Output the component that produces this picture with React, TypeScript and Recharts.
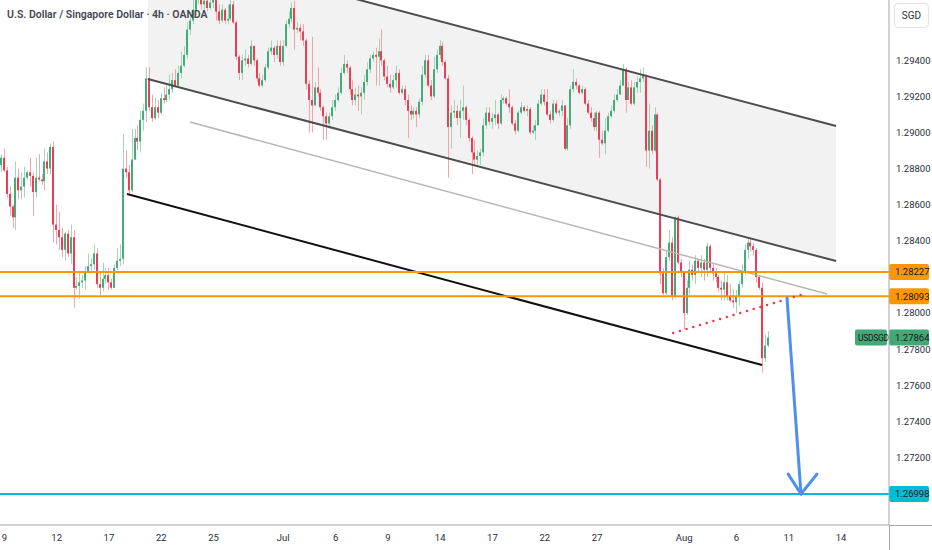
import React from 'react';
import { ComposedChart, Bar, Area, XAxis, YAxis, ReferenceLine } from 'recharts';

// USD/SGD 4h candles (open = previous close)
const firstOpen = 1.2882;
const closes = [
  1.2886, 1.2879, 1.2866, 1.2859, 1.2853, 1.2875, 1.2868, 1.2870, 1.2875, 1.2878,
  1.2876, 1.2867, 1.2875, 1.2874, 1.2873, 1.2884, 1.2880, 1.2892, 1.2849, 1.2846,
  1.2842, 1.2835, 1.2844, 1.2833, 1.2842, 1.2814, 1.2815, 1.2817, 1.2818, 1.2823,
  1.2826, 1.2827, 1.2833, 1.2816, 1.2814, 1.2819, 1.2821, 1.2817, 1.2814, 1.2825,
  1.2829, 1.2830, 1.2880, 1.2878, 1.2868, 1.2885, 1.2897, 1.2895, 1.2907, 1.2912,
  1.2930, 1.2914, 1.2908, 1.2914, 1.2911, 1.2919, 1.2918, 1.2921, 1.2924, 1.2929,
  1.2926, 1.2933, 1.2937, 1.2943, 1.2957, 1.2962, 1.2968, 1.2976, 1.2978, 1.2971,
  1.2973, 1.2969, 1.2972, 1.2975, 1.2967, 1.2962, 1.2968, 1.2962, 1.2963, 1.2971,
  1.2961, 1.2942, 1.2933, 1.2940, 1.2941, 1.2938, 1.2948, 1.2940, 1.2930, 1.2926,
  1.2929, 1.2936, 1.2945, 1.2947, 1.2943, 1.2948, 1.2939, 1.2948, 1.2960, 1.2963,
  1.2969, 1.2957, 1.2958, 1.2956, 1.2951, 1.2927, 1.2918, 1.2915, 1.2925, 1.2922,
  1.2914, 1.2909, 1.2905, 1.2909, 1.2914, 1.2918, 1.2922, 1.2933, 1.2938, 1.2936,
  1.2924, 1.2918, 1.2921, 1.2920, 1.2922, 1.2928, 1.2935, 1.2941, 1.2943, 1.2942,
  1.2945, 1.2940, 1.2931, 1.2927, 1.2925, 1.2929, 1.2933, 1.2922, 1.2924, 1.2918,
  1.2912, 1.2910, 1.2912, 1.2910, 1.2917, 1.2932, 1.2940, 1.2926, 1.2920, 1.2935,
  1.2943, 1.2948, 1.2939, 1.2930, 1.2903, 1.2911, 1.2912, 1.2908, 1.2912, 1.2914,
  1.2907, 1.2897, 1.2889, 1.2885, 1.2887, 1.2889, 1.2904, 1.2911, 1.2906, 1.2908,
  1.2910, 1.2905, 1.2918, 1.2919, 1.2916, 1.2914, 1.2905, 1.2901, 1.2911, 1.2914,
  1.2912, 1.2913, 1.2900, 1.2901, 1.2904, 1.2916, 1.2921, 1.2917, 1.2910, 1.2907,
  1.2916, 1.2911, 1.2912, 1.2915, 1.2891, 1.2904, 1.2924, 1.2928, 1.2926, 1.2922,
  1.2924, 1.2916, 1.2911, 1.2908, 1.2903, 1.2911, 1.2896, 1.2894, 1.2901, 1.2909,
  1.2912, 1.2918, 1.2921, 1.2926, 1.2935, 1.2918, 1.2925, 1.2916, 1.2925, 1.2928,
  1.2930, 1.2932, 1.2890, 1.2901, 1.2890, 1.2910, 1.2874, 1.2822, 1.2811, 1.2831,
  1.2839, 1.2809, 1.2853, 1.2828, 1.2823, 1.2800, 1.2814, 1.2824, 1.2821, 1.2829,
  1.2825, 1.2828, 1.2824, 1.2837, 1.2825, 1.2822, 1.2820, 1.2814, 1.2813, 1.2817,
  1.2809, 1.2807, 1.2806, 1.2809, 1.2816, 1.2823, 1.2835, 1.2839, 1.2837, 1.2835,
  1.2820, 1.2814, 1.2775, 1.2782, 1.27864,
];
const highs = [
  1.2888, 1.2891, 1.2881, 1.2870, 1.2860, 1.2884, 1.2880, 1.2878, 1.2881, 1.2879,
  1.2886, 1.2878, 1.2886, 1.2888, 1.2877, 1.2891, 1.2889, 1.2894, 1.2895, 1.2860,
  1.2856, 1.2847, 1.2845, 1.2846, 1.2849, 1.2846, 1.2820, 1.2822, 1.2821, 1.2826,
  1.2833, 1.2830, 1.2838, 1.2836, 1.2823, 1.2828, 1.2825, 1.2825, 1.2819, 1.2827,
  1.2836, 1.2838, 1.2899, 1.2890, 1.2882, 1.2902, 1.2902, 1.2904, 1.2912, 1.2916,
  1.2936, 1.2936, 1.2921, 1.2919, 1.2918, 1.2922, 1.2925, 1.2926, 1.2932, 1.2933,
  1.2935, 1.2937, 1.2945, 1.2948, 1.2961, 1.2967, 1.2976, 1.2982, 1.2985, 1.2982,
  1.2979, 1.2976, 1.2976, 1.2979, 1.2976, 1.2971, 1.2971, 1.2969, 1.2971, 1.2976,
  1.2973, 1.2962, 1.2943, 1.2943, 1.2946, 1.2943, 1.2951, 1.2946, 1.2941, 1.2933,
  1.2932, 1.2938, 1.2947, 1.2951, 1.2948, 1.2951, 1.2951, 1.2951, 1.2962, 1.2967,
  1.2972, 1.2973, 1.2961, 1.2960, 1.2960, 1.2952, 1.2929, 1.2953, 1.2928, 1.2936,
  1.2924, 1.2915, 1.2911, 1.2911, 1.2918, 1.2921, 1.2925, 1.2936, 1.2943, 1.2940,
  1.2937, 1.2929, 1.2925, 1.2926, 1.2925, 1.2932, 1.2939, 1.2943, 1.2945, 1.2947,
  1.2952, 1.2957, 1.2941, 1.2937, 1.2932, 1.2932, 1.2937, 1.2935, 1.2926, 1.2926,
  1.2921, 1.2915, 1.2914, 1.2914, 1.2919, 1.2937, 1.2943, 1.2943, 1.2929, 1.2942,
  1.2946, 1.2951, 1.2950, 1.2940, 1.2932, 1.2915, 1.2918, 1.2915, 1.2918, 1.2926,
  1.2915, 1.2908, 1.2898, 1.2896, 1.2890, 1.2891, 1.2908, 1.2914, 1.2914, 1.2911,
  1.2918, 1.2911, 1.2921, 1.2920, 1.2920, 1.2924, 1.2915, 1.2907, 1.2912, 1.2917,
  1.2915, 1.2915, 1.2914, 1.2904, 1.2907, 1.2918, 1.2924, 1.2924, 1.2924, 1.2912,
  1.2918, 1.2918, 1.2913, 1.2918, 1.2915, 1.2908, 1.2926, 1.2935, 1.2930, 1.2927,
  1.2926, 1.2925, 1.2918, 1.2914, 1.2911, 1.2912, 1.2912, 1.2901, 1.2908, 1.2911,
  1.2915, 1.2921, 1.2924, 1.2929, 1.2938, 1.2936, 1.2928, 1.2929, 1.2928, 1.2931,
  1.2935, 1.2936, 1.2932, 1.2916, 1.2904, 1.2914, 1.2911, 1.2875, 1.2825, 1.2835,
  1.2846, 1.2842, 1.2854, 1.2854, 1.2830, 1.2823, 1.2818, 1.2829, 1.2827, 1.2832,
  1.2830, 1.2832, 1.2830, 1.2839, 1.2838, 1.2827, 1.2825, 1.2821, 1.2818, 1.2823,
  1.2821, 1.2816, 1.2813, 1.2813, 1.2818, 1.2827, 1.2838, 1.2842, 1.2841, 1.2839,
  1.2836, 1.2821, 1.2817, 1.2788, 1.2790,
];
const lows = [
  1.2878, 1.2878, 1.2864, 1.2854, 1.2847, 1.2846, 1.2863, 1.2863, 1.2864, 1.2874,
  1.2870, 1.2854, 1.2864, 1.2873, 1.2871, 1.2868, 1.2877, 1.2877, 1.2839, 1.2838,
  1.2835, 1.2831, 1.2829, 1.2831, 1.2827, 1.2803, 1.2813, 1.2808, 1.2814, 1.2813,
  1.2822, 1.2823, 1.2824, 1.2814, 1.2810, 1.2812, 1.2816, 1.2813, 1.2813, 1.2814,
  1.2824, 1.2826, 1.2827, 1.2875, 1.2865, 1.2867, 1.2890, 1.2890, 1.2889, 1.2901,
  1.2906, 1.2912, 1.2906, 1.2907, 1.2908, 1.2910, 1.2916, 1.2917, 1.2918, 1.2922,
  1.2925, 1.2925, 1.2930, 1.2936, 1.2941, 1.2954, 1.2960, 1.2965, 1.2971, 1.2968,
  1.2965, 1.2967, 1.2968, 1.2969, 1.2962, 1.2960, 1.2961, 1.2960, 1.2960, 1.2962,
  1.2960, 1.2940, 1.2929, 1.2929, 1.2937, 1.2936, 1.2937, 1.2937, 1.2928, 1.2925,
  1.2925, 1.2928, 1.2935, 1.2943, 1.2939, 1.2941, 1.2937, 1.2937, 1.2947, 1.2958,
  1.2961, 1.2946, 1.2955, 1.2951, 1.2948, 1.2924, 1.2900, 1.2900, 1.2915, 1.2920,
  1.2912, 1.2896, 1.2896, 1.2902, 1.2907, 1.2912, 1.2917, 1.2921, 1.2932, 1.2933,
  1.2921, 1.2915, 1.2915, 1.2912, 1.2910, 1.2918, 1.2926, 1.2933, 1.2939, 1.2926,
  1.2926, 1.2937, 1.2929, 1.2925, 1.2922, 1.2924, 1.2925, 1.2921, 1.2921, 1.2915,
  1.2897, 1.2907, 1.2908, 1.2903, 1.2908, 1.2915, 1.2930, 1.2925, 1.2918, 1.2919,
  1.2933, 1.2941, 1.2937, 1.2929, 1.2875, 1.2891, 1.2908, 1.2904, 1.2897, 1.2907,
  1.2904, 1.2895, 1.2877, 1.2882, 1.2881, 1.2882, 1.2887, 1.2902, 1.2904, 1.2902,
  1.2904, 1.2902, 1.2904, 1.2916, 1.2915, 1.2911, 1.2904, 1.2899, 1.2900, 1.2910,
  1.2911, 1.2909, 1.2899, 1.2899, 1.2896, 1.2904, 1.2915, 1.2915, 1.2909, 1.2905,
  1.2906, 1.2910, 1.2909, 1.2909, 1.2890, 1.2890, 1.2902, 1.2922, 1.2924, 1.2921,
  1.2921, 1.2915, 1.2910, 1.2906, 1.2901, 1.2901, 1.2886, 1.2893, 1.2888, 1.2900,
  1.2908, 1.2911, 1.2917, 1.2921, 1.2926, 1.2911, 1.2918, 1.2915, 1.2915, 1.2922,
  1.2922, 1.2928, 1.2881, 1.2880, 1.2888, 1.2889, 1.2873, 1.2816, 1.2810, 1.2810,
  1.2829, 1.2807, 1.2808, 1.2827, 1.2820, 1.2791, 1.2799, 1.2810, 1.2818, 1.2816,
  1.2823, 1.2820, 1.2818, 1.2820, 1.2823, 1.2818, 1.2817, 1.2812, 1.2807, 1.2807,
  1.2807, 1.2806, 1.2803, 1.2800, 1.2804, 1.2814, 1.2821, 1.2830, 1.2834, 1.2832,
  1.2817, 1.2813, 1.2767, 1.2773, 1.2781,
];

// x axis: bar slots, labels at the first bar of the day
const slotCount = 306;
const dateTicks = [1, 19, 37, 55, 73, 97, 115, 133, 151, 169, 187, 205, 235, 253, 271, 289];
const dateLabels = ['9', '12', '17', '22', '25', 'Jul', '6', '9', '14', '17', '22', '27', 'Aug', '6', '11', '14'];
// 1.28200 sits under the orange tag in the picture, so it is left out
const priceTicks = [1.272, 1.274, 1.276, 1.278, 1.28, 1.284, 1.286, 1.288, 1.29, 1.292, 1.294];

const levels = [
  { price: 1.28227, color: '#ff9800' },
  { price: 1.28093, color: '#ff9800' },
  { price: 1.26998, color: '#00bcd4' },
];
const lastPrice = 1.27864;

// drawings as [barIndex, price, barIndex, price]
const channelUpper = [50.4, 1.30044, 287.3, 1.29036];
const channelLower = [50.4, 1.29296, 287.3, 1.28288];
const midLine = [64.9, 1.29058, 284.2, 1.28105];
const supportLine = [43.2, 1.28659, 261.8, 1.27712];
const dottedLine = [231.2, 1.27889, 275.2, 1.281];
const arrowShaft = [270.4, 1.28083, 275.2, 1.26998];
const arrowLeft = [270.8, 1.27108, 275.2, 1.26998];
const arrowRight = [280.7, 1.27108, 275.2, 1.26998];

const upBody = '#43ad79';
const upWick = '#a3d6b8';
const downBody = '#ee3d52';
const downWick = '#f4a3ac';
const font = 'Roboto, "Noto Sans", sans-serif';

const candles = closes.map((close, i) => {
  const open = i === 0 ? firstOpen : closes[i - 1];
  const high = Math.max(highs[i], open, close);
  const low = Math.min(lows[i], open, close);
  return { i, open, close, high, low, range: [low, high] };
});

const channel = [
  { i: channelLower[0], band: [channelLower[1], channelUpper[1]] },
  { i: channelLower[2], band: [channelLower[3], channelUpper[3]] },
];

const seg = (s: number[]) => [
  { x: s[0], y: s[1] },
  { x: s[2], y: s[3] },
];

function Candle(props: any) {
  const { x, y, width, height, payload } = props;
  if (!payload || height == null || isNaN(y)) return null;
  const { open, close, high, low } = payload;
  const k = height / (high - low);
  const yo = y + (high - open) * k;
  const yc = y + (high - close) * k;
  const up = close >= open;
  const cx = Math.floor(x + width / 2);
  const top = Math.min(yo, yc);
  const h = Math.max(1, Math.abs(yc - yo));
  return (
    <g>
      <rect x={cx} y={y} width={1} height={height} fill={up ? upWick : downWick} />
      <rect x={cx - 1} y={top} width={2} height={h} fill={up ? upBody : downBody} />
    </g>
  );
}

function PriceTag({ viewBox, text, color }: any) {
  const x = viewBox.x + viewBox.width;
  const y = viewBox.y;
  return (
    <g>
      <rect x={x} y={y - 8} width={40} height={16} rx={2} fill={color} />
      <text x={x + 6} y={y} dy="0.35em" fontSize={9.5} fill="#131722" fontFamily={font}>
        {text}
      </text>
    </g>
  );
}

function LastTag({ viewBox }: any) {
  const x = viewBox.x + viewBox.width;
  const y = viewBox.y;
  return (
    <g>
      <rect x={x - 34} y={y - 8} width={32} height={16} rx={2} fill="#43a876" />
      <text x={x - 31} y={y} dy="0.35em" fontSize={8.5} letterSpacing={-0.3} fill="#131722" fontFamily={font}>
        USDSGD
      </text>
      <rect x={x} y={y - 8} width={40} height={16} rx={2} fill="#43a876" />
      <text x={x + 6} y={y} dy="0.35em" fontSize={9.5} fill="#131722" fontFamily={font}>
        {lastPrice.toFixed(5)}
      </text>
    </g>
  );
}

export default function App() {
  return (
    <div style={{ position: 'absolute', left: 0, top: 0, width: 932, height: 550, background: '#fff', fontFamily: font }}>
      <ComposedChart width={932} height={550} data={candles} margin={{ top: 0, right: 0, bottom: 0, left: 0 }}>
        <XAxis
          dataKey="i"
          type="number"
          domain={[-0.5, slotCount - 0.5]}
          allowDataOverflow
          ticks={dateTicks}
          interval={0}
          tickFormatter={(v: number) => dateLabels[dateTicks.indexOf(v)]}
          height={25}
          tickSize={0}
          tickMargin={9}
          axisLine={{ stroke: '#a3a6af' }}
          tick={{ fontSize: 9.5, fill: '#2a2e39', fontFamily: font }}
        />
        <YAxis
          orientation="right"
          type="number"
          domain={[1.26826, 1.29734]}
          allowDataOverflow
          ticks={priceTicks}
          interval={0}
          tickFormatter={(v: number) => v.toFixed(5)}
          width={43}
          tickSize={0}
          tickMargin={7}
          axisLine={{ stroke: '#a3a6af' }}
          tick={{ fontSize: 9.5, fill: '#2a2e39', fontFamily: font, textAnchor: 'start' }}
        />
        <Area
          data={channel}
          dataKey="band"
          stroke="none"
          fill="#f2f2f2"
          fillOpacity={1}
          isAnimationActive={false}
          dot={false}
          activeDot={false}
        />
        <ReferenceLine segment={seg(midLine)} stroke="#b7b7b7" strokeWidth={1.5} ifOverflow="hidden" />
        <Bar dataKey="range" barSize={2} shape={Candle} isAnimationActive={false} />
        <ReferenceLine segment={seg(channelUpper)} stroke="#4d4d4d" strokeWidth={2} ifOverflow="hidden" />
        <ReferenceLine segment={seg(channelLower)} stroke="#4d4d4d" strokeWidth={2} ifOverflow="hidden" />
        <ReferenceLine segment={seg(supportLine)} stroke="#111111" strokeWidth={2} ifOverflow="hidden" />
        {levels.map((l) => (
          <ReferenceLine
            key={l.price}
            y={l.price}
            stroke={l.color}
            strokeWidth={2}
            label={(p: any) => <PriceTag viewBox={p.viewBox} text={l.price.toFixed(5)} color={l.color} />}
          />
        ))}
        <ReferenceLine
          segment={seg(dottedLine)}
          stroke="#f23645"
          strokeWidth={2.5}
          strokeDasharray="0 7"
          strokeLinecap="round"
          ifOverflow="hidden"
        />
        <ReferenceLine segment={seg(arrowShaft)} stroke="#4f8ff0" strokeWidth={3} strokeLinecap="round" ifOverflow="hidden" />
        <ReferenceLine segment={seg(arrowLeft)} stroke="#4f8ff0" strokeWidth={3} strokeLinecap="round" ifOverflow="hidden" />
        <ReferenceLine segment={seg(arrowRight)} stroke="#4f8ff0" strokeWidth={3} strokeLinecap="round" ifOverflow="hidden" />
        <ReferenceLine y={lastPrice} stroke="none" label={(p: any) => <LastTag viewBox={p.viewBox} />} />
      </ComposedChart>
      <div style={{ position: 'absolute', left: 7, top: 8, fontSize: 10.5, fontWeight: 600, color: '#434651', whiteSpace: 'nowrap' }}>
        U.S. Dollar / Singapore Dollar · 4h · OANDA
      </div>
      <div
        style={{
          position: 'absolute', left: 894, top: 3, width: 33, height: 23, border: '1px solid #e0e3eb',
          borderRadius: 4, fontSize: 10, color: '#2a2e39', display: 'flex', alignItems: 'center', justifyContent: 'center',
          background: '#fff',
        }}
      >
        SGD
      </div>
      <div style={{ position: 'absolute', left: 889, top: 525, width: 43, height: 1, background: '#a3a6af' }} />
      <div style={{ position: 'absolute', left: 889, top: 525, width: 1, height: 25, background: '#a3a6af' }} />
    </div>
  );
}
